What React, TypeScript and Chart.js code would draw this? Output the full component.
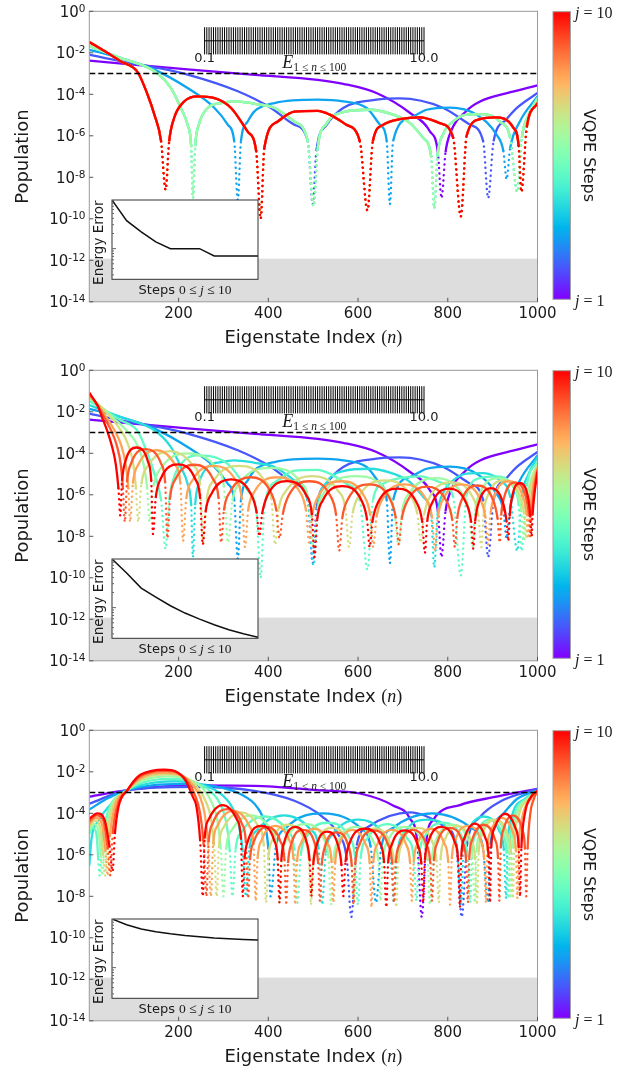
import React, { useEffect, useRef } from "react";
import { Chart, registerables } from "chart.js";

Chart.register(...registerables);

type P = [number, number];

// ---------- axes / layout constants ----------
const N_RANGE = [1, 1000];
const X_TICKS = [200, 400, 600, 800, 1000];
const Y_TICK_EXPONENTS = [0, -2, -4, -6, -8, -10, -12, -14];
const POP_RANGE = [1e-14, 1];
const THRESHOLD = 1e-3;
const SHADE_LEVEL = 1.2e-12;
const STEP_INDEX = [1, 2, 3, 4, 5, 6, 7, 8, 9, 10];
const ERR_STEPS = [0, 1, 2, 3, 4, 5, 6, 7, 8, 9, 10];
const ERR_RANGE = [0.0245, 0.93];
const ENERGY_TICKS = [0.1, 10.0];
const ENERGY_LEVELS = [
  0.1, 0.2, 0.3, 0.4, 0.5, 0.6, 0.7, 0.8, 0.9, 1.0,
  1.1, 1.2, 1.3, 1.4, 1.5, 1.6, 1.7, 1.8, 1.9, 2.0,
  2.1, 2.2, 2.3, 2.4, 2.5, 2.6, 2.7, 2.8, 2.9, 3.0,
  3.1, 3.2, 3.3, 3.4, 3.5, 3.6, 3.7, 3.8, 3.9, 4.0,
  4.1, 4.2, 4.3, 4.4, 4.5, 4.6, 4.7, 4.8, 4.9, 5.0,
  5.1, 5.2, 5.3, 5.4, 5.5, 5.6, 5.7, 5.8, 5.9, 6.0,
  6.1, 6.2, 6.3, 6.4, 6.5, 6.6, 6.7, 6.8, 6.9, 7.0,
  7.1, 7.2, 7.3, 7.4, 7.5, 7.6, 7.7, 7.8, 7.9, 8.0,
  8.1, 8.2, 8.3, 8.4, 8.5, 8.6, 8.7, 8.8, 8.9, 9.0,
  9.1, 9.2, 9.3, 9.4, 9.5, 9.6, 9.7, 9.8, 9.9, 10.0,
];

// ---------- energy error insets (steps j = 0..10) ----------
const ERR_TOP = [0.93, 0.36, 0.216, 0.136, 0.1, 0.1, 0.1, 0.0716, 0.0716, 0.0716, 0.0716];
const ERR_MID = [0.93, 0.49, 0.245, 0.162, 0.109, 0.078, 0.059, 0.0455, 0.0362, 0.0301, 0.0258];
const ERR_BOT = [0.93, 0.716, 0.587, 0.519, 0.473, 0.438, 0.412, 0.388, 0.376, 0.365, 0.353];

// ---------- populations, top panel ----------
const topJ1: P[] = [[1,4.2e-3],[220,1.6e-3],[370,8.7e-4],[510,5.0e-4],[567,3.2e-4],[641,1.15e-4],[716,1.26e-5],[760,1.66e-6],[778,1.6e-7],[786,1e-9],[795,1.6e-7],[805,1.26e-6],[842,1.6e-5],[872,4.5e-5],[940,1.26e-4],[1000,2.7e-4]];
const topJ2: P[] = [[1,8.1e-3],[71,3.9e-3],[146,2e-3],[220,8.9e-4],[332,1.4e-4],[406,2.2e-5],[458,3.4e-6],[488,5.4e-7],[499,5e-10],[507,1.8e-7],[530,3.4e-6],[567,2.2e-5],[641,5.5e-5],[693,6.3e-5],[790,2.2e-5],[850,3.4e-6],[879,5.4e-7],[890,1e-9],[902,5.4e-7],[930,6e-6],[954,2.2e-5],[1000,1.15e-4]];
const topJ3: P[] = [[1,1.4e-2],[71,5.6e-3],[146,1.55e-3],[220,2e-4],[280,2.2e-5],[310,3.4e-6],[324,5.4e-7],[332,8e-10],[339,5.4e-7],[354,4.9e-6],[369,1.5e-5],[414,3.8e-5],[510,5.5e-5],[567,4.6e-5],[619,2.2e-5],[649,3.4e-6],[664,5.4e-7],[671,5e-10],[678,5.4e-7],[716,7.2e-6],[753,1.8e-5],[805,2.3e-5],[864,1.05e-5],[909,1.1e-6],[924,1.8e-7],[931,8e-9],[939,2.5e-7],[961,5e-6],[1000,7.9e-5]];
const topJ4: P[] = [[1,2.1e-2],[71,5.6e-3],[146,1.3e-3],[183,2e-4],[205,2.2e-5],[220,3.4e-6],[228,3.2e-7],[232,1e-9],[237,3.2e-7],[245,3.4e-6],[265,2.2e-5],[295,3.8e-5],[324,4.6e-5],[369,3.5e-5],[414,2.2e-5],[458,4.9e-6],[488,5.4e-7],[501,4e-10],[510,2.5e-7],[530,4e-6],[567,1.4e-5],[626,1.8e-5],[678,1.05e-5],[716,4.1e-6],[745,8e-7],[763,1e-7],[770,3.2e-10],[777,1e-7],[790,1.26e-6],[812,4.9e-6],[842,1.05e-5],[879,1.1e-5],[916,4.9e-6],[939,8e-7],[955,2e-9],[965,8e-7],[980,1e-5],[1000,6.6e-5]];
const topJ7: P[] = [[1,3.3e-2],[41,1e-2],[71,3.9e-3],[109,1.15e-3],[131,9.5e-5],[146,1.05e-5],[161,5.4e-7],[171,2.5e-9],[179,5.4e-7],[190,7.2e-6],[213,4.6e-5],[242,7.9e-5],[280,6.6e-5],[317,2.2e-5],[354,1.6e-6],[373,1.8e-7],[383,1e-10],[391,2.5e-7],[421,4.9e-6],[458,1.45e-5],[510,1.6e-5],[537,1.05e-5],[574,3.4e-6],[604,5.4e-7],[621,2.5e-10],[633,5.4e-7],[656,3.4e-6],[693,6.3e-6],[738,7.8e-6],[782,4.1e-6],[812,8e-7],[829,1.3e-10],[842,1e-6],[872,6.3e-6],[905,7.8e-6],[946,2.5e-6],[958,3.2e-7],[964,2e-9],[976,2.5e-6],[1000,3.8e-5]];

// ---------- populations, middle panel ----------
const midJ6: P[] = [[1,4.5e-2],[25,1.9e-2],[55,5e-3],[85,1.2e-3],[108,2.5e-4],[122,3e-5],[130,2e-6],[135,5e-8],[144,2.5e-6],[161,2e-5],[222,1e-4],[284,2e-5],[301,2.5e-6],[310,5e-9],[320,5e-7],[338,4e-6],[405,2e-5],[472,4e-6],[490,5e-7],[500,3e-9],[510,2e-7],[528,1.6e-6],[595,8e-6],[662,1.6e-6],[680,2e-7],[690,4e-9],[698,1.6e-7],[715,1.26e-6],[772,6.3e-6],[830,1.26e-6],[847,1.6e-7],[855,3e-9],[861,1.6e-7],[872,1.26e-6],[912,6.3e-6],[953,1.26e-6],[964,1.6e-7],[970,6e-9],[973,2e-7],[982,3e-6],[1000,3e-5]];
const midJ7: P[] = [[1,5.4e-2],[25,1.9e-2],[50,5e-3],[72,1.2e-3],[88,2.5e-4],[99,3e-5],[105,2e-6],[110,5e-8],[117,3.2e-6],[132,2.5e-5],[182,1.26e-4],[233,2.5e-5],[248,3.2e-6],[255,5e-9],[263,6.2e-7],[279,5e-6],[335,2.5e-5],[391,5e-6],[407,6.2e-7],[415,4e-9],[423,2e-7],[440,1.6e-6],[497,8e-6],[555,1.6e-6],[572,2e-7],[580,3e-9],[588,1.25e-7],[604,1e-6],[660,5e-6],[716,1e-6],[732,1.25e-7],[740,5e-9],[747,1e-7],[760,8e-7],[807,4e-6],[855,8e-7],[868,1e-7],[875,3e-9],[880,1.25e-7],[890,1e-6],[925,5e-6],[960,1e-6],[970,1.25e-7],[975,8e-9],[978,1.5e-7],[985,2.5e-6],[1000,2.5e-5]];
const midJ8: P[] = [[1,6.3e-2],[22,1.9e-2],[40,5e-3],[58,1.2e-3],[72,2.5e-4],[82,3e-5],[88,2e-6],[92,5e-8],[98,3.5e-6],[110,2.8e-5],[151,1.4e-4],[192,2.8e-5],[204,3.5e-6],[210,6e-9],[217,6.2e-7],[231,5e-6],[279,2.5e-5],[327,5e-6],[341,6.2e-7],[348,3e-9],[355,1.75e-7],[369,1.4e-6],[420,7e-6],[470,1.4e-6],[484,1.75e-7],[491,5e-9],[498,1.1e-7],[512,9e-7],[563,4.5e-6],[613,9e-7],[627,1.1e-7],[634,3e-9],[641,8e-8],[655,6.4e-7],[703,3.2e-6],[751,6.4e-7],[765,8e-8],[772,2e-9],[778,8e-8],[790,6.4e-7],[831,3.2e-6],[872,6.4e-7],[884,8e-8],[890,4e-9],[895,1.1e-7],[904,9e-7],[935,4.5e-6],[967,9e-7],[976,1.1e-7],[980,8e-9],[983,1e-7],[989,2e-6],[1000,2e-5]];
const midJ9: P[] = [[1,7.2e-2],[20,1.9e-2],[35,5e-3],[50,1.2e-3],[62,2.5e-4],[71,3e-5],[76,2e-6],[80,5e-8],[85,4e-6],[94,3.2e-5],[127,1.6e-4],[161,3.2e-5],[170,4e-6],[175,8e-9],[181,7e-7],[193,5.6e-6],[235,2.8e-5],[277,5.6e-6],[289,7e-7],[295,5e-9],[301,1.75e-7],[315,1.4e-6],[360,7e-6],[405,1.4e-6],[418,1.75e-7],[425,8e-9],[432,1.1e-7],[445,9e-7],[491,4.5e-6],[538,9e-7],[551,1.1e-7],[558,2e-9],[565,8e-8],[578,6.4e-7],[624,3.2e-6],[671,6.4e-7],[684,8e-8],[691,4e-9],[697,6.2e-8],[710,5e-7],[753,2.5e-6],[797,5e-7],[810,6.2e-8],[816,3e-9],[821,7e-8],[831,5.6e-7],[866,2.8e-6],[901,5.6e-7],[911,7e-8],[916,5e-9],[919,1e-7],[926,8e-7],[950,4e-6],[974,8e-7],[981,1e-7],[984,1e-8],[987,1e-7],[992,1.5e-6],[1000,1.6e-5]];
const midJ10: P[] = [[1,8.3e-2],[20,1.9e-2],[30,5e-3],[41,1.2e-3],[52,2e-4],[60,3e-5],[66,2e-6],[70,1e-7],[74,4.7e-6],[81,3.8e-5],[106,1.9e-4],[132,3.8e-5],[139,4.7e-6],[143,1.3e-8],[149,7e-7],[160,5.8e-6],[198,2.9e-5],[237,5.8e-6],[248,7e-7],[254,4e-9],[260,1.4e-7],[273,1.1e-6],[317,5.5e-6],[361,1.1e-6],[374,1.4e-7],[380,1e-8],[386,1.15e-7],[398,9.2e-7],[441,4.6e-6],[485,9.2e-7],[497,1.15e-7],[503,1e-9],[509,6.5e-8],[521,5.2e-7],[565,2.6e-6],[608,5.2e-7],[620,6.5e-8],[626,3e-9],[632,5e-8],[644,4e-7],[688,2e-6],[731,4e-7],[743,5e-8],[749,1.6e-9],[754,5e-8],[765,4e-7],[803,2e-6],[841,4e-7],[852,5e-8],[857,2.5e-9],[861,5.2e-8],[869,4.2e-7],[896,2.1e-6],[923,4.2e-7],[931,5.2e-8],[935,6e-9],[938,9e-8],[943,7.4e-7],[961,3.7e-6],[979,7.4e-7],[984,9e-8],[987,1e-8],[989,1e-7],[993,1e-6],[1000,1.3e-5]];

// ---------- populations, bottom panel ----------
const botJ1: P[] = [[1,6.3e-4],[86,1.3e-3],[220,2.2e-3],[369,2.1e-3],[510,1.3e-3],[604,9e-4],[678,2.4e-4],[716,5.5e-5],[732,4e-6],[742,1e-9],[752,4e-6],[768,5e-5],[827,2.5e-4],[902,6e-4],[954,1e-3],[1000,1.5e-3]];
const botJ2: P[] = [[1,2.9e-4],[86,1.3e-3],[235,1.9e-3],[369,1.2e-3],[458,4e-4],[520,7e-5],[555,1e-5],[575,6e-7],[585,1e-9],[597,2.8e-6],[622,2.2e-5],[716,1.1e-4],[794,2.2e-5],[819,2.8e-6],[831,1e-9],[843,3e-6],[870,6e-5],[920,4e-4],[1000,1.5e-3]];
const botJ3: P[] = [[1,1.5e-4],[40,5e-4],[86,1.3e-3],[140,2.2e-3],[210,2.6e-3],[280,2e-3],[340,8e-4],[375,2e-4],[392,3e-5],[400,2e-6],[405,1e-8],[417,2.5e-6],[440,2e-5],[522,1e-4],[605,2e-5],[628,2.5e-6],[640,5e-9],[652,2.5e-6],[678,2e-5],[765,1e-4],[852,2e-5],[878,2.5e-6],[890,5e-9],[895,3e-6],[920,8e-5],[955,5e-4],[1000,1.3e-3]];
const botJ4: P[] = [[1,3e-7],[6,6e-6],[20,4e-5],[45,2.2e-4],[86,1.3e-3],[125,2.5e-3],[160,3.3e-3],[195,3.5e-3],[245,2.6e-3],[290,1e-3],[318,2.2e-4],[334,3e-5],[343,1.5e-6],[350,1e-8],[358,2e-6],[376,1.6e-5],[435,8e-5],[495,1.6e-5],[512,2e-6],[520,4e-9],[528,1.25e-6],[544,1e-5],[600,5e-5],[656,1e-5],[672,1.25e-6],[680,5e-9],[688,1.25e-6],[702,1e-5],[755,5e-5],[808,1e-5],[822,1.25e-6],[830,4e-9],[835,1.75e-6],[845,1.4e-5],[880,7e-5],[915,1.4e-5],[925,1.75e-6],[930,8e-9],[933,2e-6],[942,6e-5],[972,5e-4],[1000,1.2e-3]];
const botJ5: P[] = [[1,1e-5],[9,2e-5],[17,1e-5],[21,6e-7],[24,1e-7],[29,4e-6],[40,8e-5],[86,1.3e-3],[120,3e-3],[155,4.3e-3],[185,4.5e-3],[230,3.5e-3],[270,1.2e-3],[294,2.5e-4],[307,3e-5],[314,1.5e-6],[320,1e-8],[327,1.75e-6],[342,1.4e-5],[392,7e-5],[443,1.4e-5],[458,1.75e-6],[465,5e-9],[472,8.8e-7],[485,7e-6],[532,3.5e-5],[580,7e-6],[593,8.8e-7],[600,4e-9],[606,7.5e-7],[620,6e-6],[665,3e-5],[710,6e-6],[724,7.5e-7],[730,6e-9],[736,8.8e-7],[748,7e-6],[790,3.5e-5],[832,7e-6],[844,8.8e-7],[850,5e-9],[854,1.25e-6],[863,1e-5],[892,5e-5],[922,1e-5],[931,1.25e-6],[935,8e-9],[938,2e-6],[947,6e-5],[975,5e-4],[1000,1.2e-3]];
const botJ6: P[] = [[1,1.5e-5],[11,3e-5],[21,1.5e-5],[27,8e-7],[30,1e-7],[35,5e-6],[45,1e-4],[86,1.3e-3],[118,3.7e-3],[150,5.6e-3],[180,6e-3],[220,4.5e-3],[255,1.5e-3],[275,3e-4],[287,4e-5],[294,2e-6],[300,1e-8],[306,2e-6],[319,1.6e-5],[362,8e-5],[406,1.6e-5],[419,2e-6],[425,5e-9],[431,7.5e-7],[442,6e-6],[482,3e-5],[523,6e-6],[534,7.5e-7],[540,4e-9],[545,5.5e-7],[556,4.4e-6],[595,2.2e-5],[634,4.4e-6],[645,5.5e-7],[650,6e-9],[655,5.5e-7],[666,4.4e-6],[705,2.2e-5],[744,4.4e-6],[755,5.5e-7],[760,4e-9],[765,7e-7],[775,5.6e-6],[810,2.8e-5],[845,5.6e-6],[855,7e-7],[860,5e-9],[864,1.25e-6],[872,1e-5],[900,5e-5],[928,1e-5],[936,1.25e-6],[940,8e-9],[943,2e-6],[952,6e-5],[978,5e-4],[1000,1.2e-3]];
const botJ7: P[] = [[1,2.2e-5],[13,4.5e-5],[25,2.2e-5],[32,1e-6],[36,1e-7],[41,6e-6],[50,1.2e-4],[86,1.3e-3],[115,4.2e-3],[148,7e-3],[175,7.5e-3],[210,6e-3],[240,2e-3],[260,4e-4],[272,6e-5],[279,3e-6],[285,1e-8],[290,2.8e-6],[301,2.2e-5],[340,1.1e-4],[379,2.2e-5],[390,2.8e-6],[395,5e-9],[400,7e-7],[410,5.6e-6],[445,2.8e-5],[480,5.6e-6],[490,7e-7],[495,4e-9],[500,5e-7],[509,4e-6],[542,2e-5],[576,4e-6],[585,5e-7],[590,6e-9],[595,4.5e-7],[604,3.6e-6],[637,1.8e-5],[671,3.6e-6],[680,4.5e-7],[685,3e-9],[690,5e-7],[699,4e-6],[732,2e-5],[766,4e-6],[775,5e-7],[780,5e-9],[784,6.2e-7],[793,5e-6],[822,2.5e-5],[852,5e-6],[861,6.2e-7],[865,4e-9],[869,1.25e-6],[877,1e-5],[905,5e-5],[933,1e-5],[941,1.25e-6],[945,8e-9],[948,2e-6],[957,6e-5],[980,5e-4],[1000,1.2e-3]];
const botJ8: P[] = [[1,3e-5],[15,6e-5],[29,3e-5],[37,1.5e-6],[42,1e-7],[47,8e-6],[56,1.5e-4],[86,1.3e-3],[114,4.8e-3],[145,8.5e-3],[172,9e-3],[205,7e-3],[230,2.5e-3],[248,6e-4],[258,1e-4],[266,3e-6],[272,1e-8],[277,3.2e-6],[287,2.6e-5],[322,1.3e-4],[357,2.6e-5],[367,3.2e-6],[372,6e-9],[376,6.2e-7],[385,5e-6],[416,2.5e-5],[447,5e-6],[456,6.2e-7],[460,4e-9],[464,4.5e-7],[473,3.6e-6],[502,1.8e-5],[532,3.6e-6],[541,4.5e-7],[545,5e-9],[549,4e-7],[558,3.2e-6],[587,1.6e-5],[617,3.2e-6],[626,4e-7],[630,3e-9],[634,4e-7],[643,3.2e-6],[675,1.6e-5],[707,3.2e-6],[716,4e-7],[720,6e-9],[724,4.5e-7],[733,3.6e-6],[762,1.8e-5],[792,3.6e-6],[801,4.5e-7],[805,4e-9],[809,6.2e-7],[817,5e-6],[845,2.5e-5],[873,5e-6],[881,6.2e-7],[885,5e-9],[888,1.5e-6],[895,1.2e-5],[920,6e-5],[945,1.2e-5],[952,1.5e-6],[955,8e-9],[958,2e-6],[967,8e-5],[985,5e-4],[1000,1.2e-3]];
const botJ9: P[] = [[1,4e-5],[17,8e-5],[33,4e-5],[42,2e-6],[48,1e-7],[53,1e-5],[62,1.8e-4],[86,1.3e-3],[112,5.5e-3],[142,1e-2],[172,1.1e-2],[200,8.5e-3],[222,3e-3],[236,8e-4],[248,1e-4],[256,3e-6],[262,1e-8],[267,4e-6],[276,3.2e-5],[308,1.6e-4],[341,3.2e-5],[350,4e-6],[355,8e-9],[359,5.5e-7],[368,4.4e-6],[397,2.2e-5],[427,4.4e-6],[436,5.5e-7],[440,5e-9],[444,4e-7],[451,3.2e-6],[477,1.6e-5],[504,3.2e-6],[511,4e-7],[515,6e-9],[519,3e-7],[526,2.4e-6],[552,1.2e-5],[579,2.4e-6],[586,3e-7],[590,4e-9],[594,3.8e-7],[603,3e-6],[635,1.5e-5],[667,3e-6],[676,3.8e-7],[680,5e-9],[684,4e-7],[693,3.2e-6],[722,1.6e-5],[752,3.2e-6],[761,4e-7],[765,6e-9],[769,5e-7],[777,4e-6],[805,2e-5],[833,4e-6],[841,5e-7],[845,5e-9],[848,7e-7],[855,5.6e-6],[880,2.8e-5],[905,5.6e-6],[912,7e-7],[915,6e-9],[918,2e-6],[924,1.6e-5],[945,8e-5],[966,1.6e-5],[972,2e-6],[975,1e-8],[978,2e-6],[984,1e-4],[992,5e-4],[1000,1.2e-3]];
const botJ10: P[] = [[1,5.5e-5],[19,1e-4],[35,5e-5],[46,2.5e-6],[53,1.6e-7],[58,1e-5],[66,2e-4],[86,1.3e-3],[110,6e-3],[140,1.1e-2],[168,1.26e-2],[195,1e-2],[215,4e-3],[232,6e-4],[240,2e-4],[248,5e-6],[254,1e-8],[258,6e-6],[267,5e-5],[298,2.5e-4],[330,5e-5],[339,6e-6],[343,1e-8],[347,6e-7],[355,5e-6],[384,2.5e-5],[413,5e-6],[421,6e-7],[425,5e-9],[429,5.5e-7],[436,4.4e-6],[460,2.2e-5],[485,4.4e-6],[492,5.5e-7],[496,1e-8],[500,3.2e-7],[507,2.6e-6],[531,1.3e-5],[556,2.6e-6],[563,3.2e-7],[567,1e-8],[572,4.5e-7],[581,3.6e-6],[615,1.8e-5],[649,3.6e-6],[658,4.5e-7],[663,3e-9],[667,3.8e-7],[675,3e-6],[704,1.5e-5],[733,3e-6],[741,3.8e-7],[745,5e-9],[749,5.5e-7],[757,4.4e-6],[786,2.2e-5],[815,4.4e-6],[823,5.5e-7],[827,3e-9],[830,8e-7],[837,6.4e-6],[860,3.2e-5],[884,6.4e-6],[891,8e-7],[894,5e-9],[897,2.4e-6],[904,1.9e-5],[928,9.5e-5],[951,1.9e-5],[958,2.4e-6],[961,1e-8],[964,2e-6],[972,1e-4],[985,6e-4],[1000,1.26e-3]];

const TOP_SERIES = [topJ1, topJ2, topJ3, topJ4, topJ4, topJ4, topJ7, topJ7, topJ7, topJ7];
const MID_SERIES = [topJ1, topJ2, topJ3, topJ4, topJ7, midJ6, midJ7, midJ8, midJ9, midJ10];
const BOT_SERIES = [botJ1, botJ2, botJ3, botJ4, botJ5, botJ6, botJ7, botJ8, botJ9, botJ10];

const PANELS = [
  { series: TOP_SERIES, err: ERR_TOP, top: 0 },
  { series: MID_SERIES, err: ERR_MID, top: 359 },
  { series: BOT_SERIES, err: ERR_BOT, top: 719 },
];

// ---------- styling ----------
const SANS = '"DejaVu Sans", sans-serif';
const SERIF = '"Liberation Serif", "DejaVu Serif", serif';
const W = 636;
const H = 359;
const PLOT = { left: 89.3, right: 537.5, top: 11.3, bottom: 301.8 };

function rainbow(t: number): string {
  const r = Math.min(1, Math.abs(2 * t - 0.5));
  const g = Math.max(0, Math.sin(Math.PI * t));
  const b = Math.max(0, Math.cos((Math.PI * t) / 2));
  return `rgb(${Math.round(r * 255)},${Math.round(g * 255)},${Math.round(b * 255)})`;
}
const stepColor = (j: number) => rainbow((j - 1) / 9);

type Run = { t: string; f: string; dy?: number };
function drawRuns(ctx: CanvasRenderingContext2D, runs: Run[], x: number, y: number, align: "left" | "center") {
  const ws = runs.map((r) => {
    ctx.font = r.f;
    return ctx.measureText(r.t).width;
  });
  const total = ws.reduce((a, b) => a + b, 0);
  let cx = align === "center" ? x - total / 2 : x;
  ctx.textAlign = "left";
  runs.forEach((r, i) => {
    ctx.font = r.f;
    ctx.fillText(r.t, cx, y + (r.dy || 0));
    cx += ws[i];
  });
}

// indices of local minima (dips) of a series
function dipIndices(pts: P[]): Set<number> {
  const s = new Set<number>();
  for (let i = 1; i < pts.length - 1; i++) {
    if (pts[i][1] < pts[i - 1][1] && pts[i][1] < pts[i + 1][1]) s.add(i);
  }
  return s;
}

const panelPlugin = {
  id: "panelDecor",
  beforeDatasetsDraw(chart: any) {
    const { ctx, chartArea: a, scales } = chart;
    const yTop = scales.y.getPixelForValue(SHADE_LEVEL);
    ctx.save();
    ctx.fillStyle = "#dddddd";
    ctx.fillRect(a.left, yTop, a.right - a.left, a.bottom - yTop);
    ctx.restore();
  },
  afterDraw(chart: any) {
    const { ctx, chartArea: a, scales } = chart;
    const xs = scales.x;
    const ys = scales.y;
    ctx.save();
    ctx.strokeStyle = "#9a9a9a";
    ctx.lineWidth = 1;
    ctx.strokeRect(a.left, a.top, a.right - a.left, a.bottom - a.top);
    ctx.strokeStyle = "#555";
    ctx.beginPath();
    for (const e of Y_TICK_EXPONENTS) {
      const py = ys.getPixelForValue(Math.pow(10, e));
      ctx.moveTo(a.left, py);
      ctx.lineTo(a.left + 4, py);
    }
    for (const t of X_TICKS) {
      const px = xs.getPixelForValue(t);
      ctx.moveTo(px, a.bottom);
      ctx.lineTo(px, a.bottom - 4);
    }
    ctx.stroke();
    ctx.fillStyle = "#1a1a1a";
    for (const e of Y_TICK_EXPONENTS) {
      const py = ys.getPixelForValue(Math.pow(10, e));
      const exp = String(e);
      ctx.font = `10.5px ${SANS}`;
      const ew = ctx.measureText(exp).width;
      ctx.textAlign = "right";
      ctx.textBaseline = "alphabetic";
      ctx.fillText(exp, 85.5, py + 0.5);
      ctx.font = `15px ${SANS}`;
      ctx.textBaseline = "middle";
      ctx.fillText("10", 85.5 - ew, py + 1.5);
    }
    ctx.font = `15px ${SANS}`;
    ctx.textAlign = "center";
    ctx.textBaseline = "top";
    for (const t of X_TICKS) {
      ctx.fillText(String(t), xs.getPixelForValue(t), a.bottom + 4.5);
    }
    ctx.textBaseline = "middle";
    drawRuns(
      ctx,
      [
        { t: "Eigenstate Index ", f: `18px ${SANS}` },
        { t: "(", f: `18px ${SERIF}` },
        { t: "n", f: `italic 18px ${SERIF}` },
        { t: ")", f: `18px ${SERIF}` },
      ],
      (a.left + a.right) / 2,
      338,
      "center"
    );
    ctx.save();
    ctx.translate(23, (a.top + a.bottom) / 2);
    ctx.rotate(-Math.PI / 2);
    ctx.font = `18px ${SANS}`;
    ctx.textAlign = "center";
    ctx.fillText("Population", 0, 0);
    ctx.restore();
    // colorbar
    const cb = { left: 553, right: 570.5, top: 11.7, bottom: 299.3 };
    const g = ctx.createLinearGradient(0, cb.bottom, 0, cb.top);
    for (let i = 0; i <= 40; i++) g.addColorStop(i / 40, rainbow(i / 40));
    ctx.fillStyle = g;
    ctx.fillRect(cb.left, cb.top, cb.right - cb.left, cb.bottom - cb.top);
    ctx.strokeStyle = "#a0a0a0";
    ctx.strokeRect(cb.left, cb.top, cb.right - cb.left, cb.bottom - cb.top);
    ctx.fillStyle = "#1a1a1a";
    ctx.textBaseline = "middle";
    drawRuns(ctx, [{ t: "j", f: `italic 16px ${SERIF}` }, { t: " = " + STEP_INDEX[STEP_INDEX.length - 1], f: `16px ${SERIF}` }], 575, 13.5, "left");
    drawRuns(ctx, [{ t: "j", f: `italic 16px ${SERIF}` }, { t: " = " + STEP_INDEX[0], f: `16px ${SERIF}` }], 575, 301.5, "left");
    ctx.save();
    ctx.translate(588.5, 155.5);
    ctx.rotate(Math.PI / 2);
    ctx.font = `16px ${SANS}`;
    ctx.textAlign = "center";
    ctx.fillText("VQPE Steps", 0, 0);
    ctx.restore();
    ctx.restore();
  },
};

function PopulationPanel({ series }: { series: P[][] }) {
  const ref = useRef<HTMLCanvasElement>(null);
  useEffect(() => {
    const datasets: any[] = series.map((pts, i) => {
      const dips = dipIndices(pts);
      const isDip = (c: any) => dips.has(c.p0DataIndex) || dips.has(c.p1DataIndex);
      return {
        label: `j = ${STEP_INDEX[i]}`,
        data: pts.map(([x, y]) => ({ x, y })),
        borderColor: stepColor(STEP_INDEX[i]),
        borderWidth: 2.3,
        pointRadius: 0,
        cubicInterpolationMode: "monotone",
        fill: false,
        order: 10 - STEP_INDEX[i],
        segment: {
          borderDash: (c: any) => (isDip(c) ? [0.1, 5.2] : undefined),
          borderCapStyle: (c: any) => (isDip(c) ? "round" : undefined),
          borderWidth: (c: any) => (isDip(c) ? 2.4 : undefined),
        },
      };
    });
    datasets.push({
      label: "threshold",
      data: [
        { x: N_RANGE[0], y: THRESHOLD },
        { x: N_RANGE[1], y: THRESHOLD },
      ],
      borderColor: "#000",
      borderWidth: 1.5,
      borderDash: [6, 3],
      pointRadius: 0,
      fill: false,
      order: -1,
    });
    const chart = new Chart(ref.current as HTMLCanvasElement, {
      type: "line",
      data: { datasets },
      options: {
        animation: false,
        responsive: false,
        maintainAspectRatio: false,
        devicePixelRatio: 1,
        layout: { padding: { top: PLOT.top, right: W - PLOT.right, bottom: 0, left: 0 } },
        scales: {
          x: {
            type: "linear",
            min: N_RANGE[0],
            max: N_RANGE[1],
            grid: { display: false },
            border: { display: false },
            ticks: { display: false },
            afterFit: (s: any) => {
              s.height = H - PLOT.bottom;
            },
          },
          y: {
            type: "logarithmic",
            min: POP_RANGE[0],
            max: POP_RANGE[1],
            grid: { display: false },
            border: { display: false },
            ticks: { display: false },
            afterFit: (s: any) => {
              s.width = PLOT.left;
            },
          },
        },
        plugins: { legend: { display: false }, tooltip: { enabled: false } },
      } as any,
      plugins: [panelPlugin],
    });
    return () => chart.destroy();
  }, [series]);
  return <canvas ref={ref} width={W} height={H} style={{ position: "absolute", left: 0, top: 0, width: W, height: H }} />;
}

const errInsetPlugin = {
  id: "errInset",
  beforeDraw(chart: any) {
    const { ctx, chartArea: a } = chart;
    ctx.save();
    ctx.fillStyle = "#ffffff";
    ctx.fillRect(a.left, a.top, a.right - a.left, a.bottom - a.top);
    ctx.restore();
  },
  afterDraw(chart: any) {
    const { ctx, chartArea: a, scales } = chart;
    ctx.save();
    ctx.strokeStyle = "#333";
    ctx.lineWidth = 1;
    ctx.strokeRect(a.left, a.top, a.right - a.left, a.bottom - a.top);
    ctx.strokeStyle = "#666";
    ctx.beginPath();
    for (const d of [0.01, 0.1]) {
      for (let m = 1; m <= 9; m++) {
        const v = m * d;
        if (v < ERR_RANGE[0] || v > ERR_RANGE[1]) continue;
        const py = scales.y.getPixelForValue(v);
        ctx.moveTo(a.left, py);
        ctx.lineTo(a.left + (m === 1 ? 4 : 2), py);
      }
    }
    ctx.stroke();
    ctx.fillStyle = "#1a1a1a";
    ctx.textBaseline = "middle";
    drawRuns(
      ctx,
      [
        { t: "Steps ", f: `13px ${SANS}` },
        { t: String(ERR_STEPS[0]) + " ≤ ", f: `13.5px ${SERIF}` },
        { t: "j", f: `italic 13.5px ${SERIF}` },
        { t: " ≤ " + String(ERR_STEPS[ERR_STEPS.length - 1]), f: `13.5px ${SERIF}` },
      ],
      (a.left + a.right) / 2,
      a.bottom + 11,
      "center"
    );
    ctx.translate(a.left - 12.5, (a.top + a.bottom) / 2 + 3);
    ctx.rotate(-Math.PI / 2);
    ctx.font = `13.5px ${SANS}`;
    ctx.textAlign = "center";
    ctx.fillText("Energy Error", 0, 0);
    ctx.restore();
  },
};

function ErrorInset({ values }: { values: number[] }) {
  const ref = useRef<HTMLCanvasElement>(null);
  useEffect(() => {
    const chart = new Chart(ref.current as HTMLCanvasElement, {
      type: "line",
      data: {
        datasets: [
          {
            data: ERR_STEPS.map((s, i) => ({ x: s, y: values[i] })),
            borderColor: "#111",
            borderWidth: 1.5,
            pointRadius: 0,
            tension: 0,
            fill: false,
          },
        ],
      },
      options: {
        animation: false,
        responsive: false,
        maintainAspectRatio: false,
        devicePixelRatio: 1,
        layout: { padding: { left: 22, top: 6, right: 6, bottom: 22.7 } },
        scales: {
          x: { type: "linear", min: ERR_STEPS[0], max: ERR_STEPS[ERR_STEPS.length - 1], display: false },
          y: { type: "logarithmic", min: ERR_RANGE[0], max: ERR_RANGE[1], display: false },
        },
        plugins: { legend: { display: false }, tooltip: { enabled: false } },
      } as any,
      plugins: [errInsetPlugin],
    });
    return () => chart.destroy();
  }, [values]);
  return <canvas ref={ref} width={174} height={108} style={{ position: "absolute", left: 90, top: 194, width: 174, height: 108 }} />;
}

const energyInsetPlugin = {
  id: "energyInset",
  afterDraw(chart: any) {
    const { ctx, chartArea: a, scales } = chart;
    ctx.save();
    ctx.fillStyle = "#1a1a1a";
    ctx.font = `13px ${SANS}`;
    ctx.textAlign = "center";
    ctx.textBaseline = "middle";
    for (const t of ENERGY_TICKS) {
      ctx.fillText(t.toFixed(1), scales.x.getPixelForValue(t), a.bottom + 7.5);
    }
    ctx.textBaseline = "alphabetic";
    drawRuns(
      ctx,
      [
        { t: "E", f: `italic 18px ${SERIF}` },
        { t: "1 ≤ ", f: `11.5px ${SERIF}`, dy: 3 },
        { t: "n", f: `italic 11.5px ${SERIF}`, dy: 3 },
        { t: " ≤ 100", f: `11.5px ${SERIF}`, dy: 3 },
      ],
      (a.left + a.right) / 2,
      a.bottom + 16.5,
      "center"
    );
    ctx.restore();
  },
};

function EnergyInset() {
  const ref = useRef<HTMLCanvasElement>(null);
  useEffect(() => {
    const chart = new Chart(ref.current as HTMLCanvasElement, {
      type: "line",
      data: {
        datasets: [
          {
            data: ENERGY_LEVELS.map((e) => ({ x: e, y: 0.5 })),
            showLine: false,
            pointStyle: "line",
            pointRotation: 90,
            pointRadius: 13.6,
            pointBorderColor: "#000",
            pointBorderWidth: 1,
            borderColor: "#000",
            clip: false,
          },
          {
            data: [
              { x: ENERGY_TICKS[0], y: 0.5 },
              { x: ENERGY_TICKS[1], y: 0.5 },
            ],
            borderColor: "#000",
            borderWidth: 1,
            pointRadius: 0,
            clip: false,
          },
        ],
      },
      options: {
        animation: false,
        responsive: false,
        maintainAspectRatio: false,
        devicePixelRatio: 1,
        layout: { padding: { left: 13, right: 26, top: 8, bottom: 23 } },
        scales: {
          x: { type: "linear", min: ENERGY_TICKS[0], max: ENERGY_TICKS[1], display: false },
          y: { type: "linear", min: 0, max: 1, display: false },
        },
        plugins: { legend: { display: false }, tooltip: { enabled: false } },
      } as any,
      plugins: [energyInsetPlugin],
    });
    return () => chart.destroy();
  }, []);
  return <canvas ref={ref} width={260} height={58} style={{ position: "absolute", left: 190, top: 16, width: 260, height: 58 }} />;
}

export default function App() {
  return (
    <div style={{ position: "absolute", left: 0, top: 0, width: 636, height: 1075, background: "#fff", overflow: "hidden" }}>
      {PANELS.map((p, k) => (
        <div key={k} style={{ position: "absolute", left: 0, top: p.top, width: W, height: H }}>
          <PopulationPanel series={p.series} />
          <EnergyInset />
          <ErrorInset values={p.err} />
        </div>
      ))}
    </div>
  );
}
